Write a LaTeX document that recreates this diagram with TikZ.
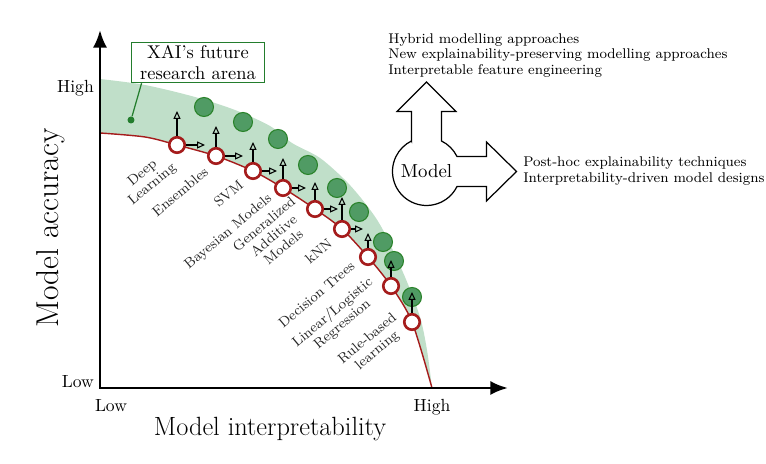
\documentclass[tikz,border=0pt]{standalone}
\usepackage{amssymb, amsmath}
\usepackage{tikz}
\usetikzlibrary{arrows.meta, calc}

\definecolor{curvered}{RGB}{165,28,28}
\definecolor{bandgreen}{RGB}{192,223,201}
\definecolor{ballgreen}{RGB}{80,155,100}
\definecolor{balledge}{RGB}{40,130,40}
\definecolor{arenagreen}{RGB}{35,125,45}

\begin{document}
\begin{tikzpicture}[scale=1]
      \tikzset{redball/.style={circle, draw=curvered, fill=white,
          line width=1.5pt, inner sep=0pt, minimum size=0.31cm},
        greenball/.style={circle, draw=balledge, fill=ballgreen,
          line width=0.6pt, inner sep=0pt, minimum size=0.38cm},
        probe/.style={-{Triangle[open, length=4.5pt, width=4pt]}, line width=0.6pt},
        method/.style={rotate=40, align=center, text=black!85,
          font=\fontsize{8}{8.6}\selectfont},
        blurb/.style={align=left, inner sep=0pt,
          font=\fontsize{8}{8.8}\selectfont},
        axis/.style={line width=1.6pt, {Latex[length=10pt, width=8pt]}-{Latex[length=10pt, width=8pt]}}
      }
      \useasboundingbox (-2,-1.52) rectangle (13.32,7.76);

      \fill [bandgreen] plot [smooth] coordinates {(0,6.18) (0.90,6.06)
        (1.90,5.82) (2.70,5.56) (3.40,5.24) (3.84,4.90) (4.40,4.60)
        (4.94,4.12) (5.36,3.62) (5.66,3.16) (6.10,2.22) (6.40,1.42)
        (6.54,0.76) (6.64,0)}
        -- plot [smooth] coordinates {(6.64,0) (6.24,1.32) (5.82,2.04)
        (5.36,2.62) (4.84,3.18) (4.30,3.58) (3.66,4.00) (3.06,4.34)
        (2.32,4.64) (1.54,4.86) (0.90,5.02) (0,5.10)} -- cycle;
      \draw [curvered, line width=0.8pt] plot [smooth] coordinates {(0,5.10)
        (0.90,5.02) (1.54,4.86) (2.32,4.64) (3.06,4.34) (3.66,4.00)
        (4.30,3.58) (4.84,3.18) (5.36,2.62) (5.82,2.04) (6.24,1.32) (6.64,0)};

      \coordinate (O) at (0,0);
      \coordinate (ytop) at (0,7.16);
      \coordinate (xend) at (8.16,0);
      \draw [axis] (ytop) -- (O) -- (xend);

      \node [anchor=east] (yhigh) at (0,6.0) {High};
      \node [anchor=east] (ylow) at (0,0.12) {Low};
      \node (xlow) at (0.22,-0.36) {Low};
      \node (xhigh) at (6.64,-0.38) {High};
      \node (xname) at (3.40,-0.82) {\fontsize{15}{18}\selectfont Model interpretability};
      \node [rotate=90] (yname) at (-0.98,3.20) {\fontsize{18}{22}\selectfont Model accuracy};

      \node [greenball] (g1) at (2.08,5.62) {};
      \node [greenball] (g2) at (2.86,5.32) {};
      \node [greenball] (g3) at (3.56,4.98) {};
      \node [greenball] (g4) at (4.16,4.46) {};
      \node [greenball] (g5) at (4.74,4.00) {};
      \node [greenball] (g6) at (5.18,3.52) {};
      \node [greenball] (g7) at (5.66,2.92) {};
      \node [greenball] (g8) at (5.88,2.54) {};
      \node [greenball] (g9) at (6.24,1.82) {};

      \node [redball] (dl) at (1.54,4.86) {};
      \node [redball] (ens) at (2.32,4.64) {};
      \node [redball] (svm) at (3.06,4.34) {};
      \node [redball] (bay) at (3.66,4.00) {};
      \node [redball] (gam) at (4.30,3.58) {};
      \node [redball] (knn) at (4.84,3.18) {};
      \node [redball] (dt) at (5.36,2.62) {};
      \node [redball] (lr) at (5.82,2.04) {};
      \node [redball] (rb) at (6.24,1.32) {};

      \draw [probe] (dl) -- ++(0,0.68);
      \draw [probe] (ens) -- ++(0,0.60);
      \draw [probe] (svm) -- ++(0,0.58);
      \draw [probe] (bay) -- ++(0,0.60);
      \draw [probe] (gam) -- ++(0,0.54);
      \draw [probe] (knn) -- ++(0,0.64);
      \draw [probe] (dt) -- ++(0,0.48);
      \draw [probe] (lr) -- ++(0,0.52);
      \draw [probe] (rb) -- ++(0,0.60);
      \draw [probe] (dl) -- ++(0.56,0);
      \draw [probe] (ens) -- ++(0.54,0);
      \draw [probe] (svm) -- ++(0.48,0);
      \draw [probe] (bay) -- ++(0.46,0);
      \draw [probe] (gam) -- ++(0.46,0);
      \draw [probe] (knn) -- ++(0.42,0);

      \node [method] (dlname) at (0.95,4.18) {Deep\\Learning};
      \node [method] (ensname) at (1.60,3.93) {Ensembles};
      \node [method] (svmname) at (2.57,3.89) {SVM};
      \node [method] (bayname) at (2.57,3.12) {Bayesian Models};
      \node [method] (gamname) at (3.47,3.05) {Generalized\\Additive\\Models};
      \node [method] (knnname) at (4.37,2.73) {kNN};
      \node [method] (dtname) at (4.33,1.87) {Decision Trees};
      \node [method] (lrname) at (4.75,1.39) {Linear/Logistic\\Regression};
      \node [method] (rbname) at (5.45,0.86) {Rule-based\\learning};

      \node [draw=arenagreen, fill=white, line width=0.7pt, align=center,
        inner xsep=5pt, inner ysep=1.5pt, font=\fontsize{10.5}{12.3}\selectfont]
        (xai) at (1.96,6.51) {XAI's future\\research arena};
      \node [circle, fill=arenagreen, inner sep=0pt, minimum size=0.14cm] (spot)
        at (0.62,5.36) {};
      \draw [arenagreen, line width=0.7pt] ($(xai.south west)!0.08!(xai.south east)$) -- (spot);

      \node [inner sep=0pt] (model) at (6.53,4.33) {\fontsize{10.7}{13}\selectfont Model};
      \draw [line width=0.7pt, shift={(model.center)}] (116.2:0.68) -- (-0.30,1.20)
        -- (-0.59,1.20) -- (0,1.79) -- (0.59,1.20) -- (0.30,1.20) -- (0.30,0.61)
        arc [start angle=63.8, end angle=26.2, radius=0.68] -- (1.20,0.30)
        -- (1.20,0.59) -- (1.80,0) -- (1.20,-0.59) -- (1.20,-0.30) -- (0.61,-0.30)
        arc [start angle=-26.2, end angle=-243.8, radius=0.68] -- cycle;

      \node [blurb, anchor=north west] (aims) at (5.76,7.10) {Hybrid modelling approaches\\
        New explainability-preserving modelling approaches\\Interpretable feature engineering};
      \node [blurb, anchor=west] (posthoc) at (8.46,4.34) {Post-hoc explainability techniques\\
        Interpretability-driven model designs};
    \end{tikzpicture}
\end{document}
